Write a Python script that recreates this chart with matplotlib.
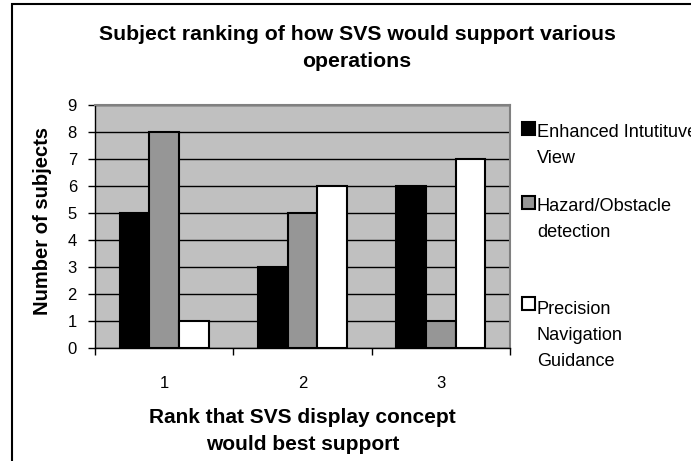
import matplotlib
matplotlib.use("Agg")
import matplotlib.pyplot as plt
from matplotlib.patches import Rectangle
import numpy as np

plt.rcParams['font.family'] = ['Liberation Sans', 'DejaVu Sans']

ranks = ["1", "2", "3"]
series_names = ["Enhanced Intutituve\nView", "Hazard/Obstacle\ndetection",
                "Precision\nNavigation\nGuidance"]
enhanced_view = [5, 3, 6]
hazard_detection = [8, 5, 1]
precision_guidance = [1, 6, 7]
series_values = [enhanced_view, hazard_detection, precision_guidance]
series_colors = ["#000000", "#969696", "#FFFFFF"]

W, H = 691, 461
fig = plt.figure(figsize=(W / 100, H / 100), dpi=100)
fig.patch.set_facecolor("white")


def fx(px):
    return px / W


def fy(py):
    return 1 - py / H


# chart frame
fig.patches.append(Rectangle((fx(12), -0.1), 1.2, 1.1 - 4 / H,
                             transform=fig.transFigure, fill=False,
                             edgecolor="black", linewidth=1.5, zorder=0))

ax = fig.add_axes([fx(95), fy(348), 415 / W, 243 / H])
ax.set_facecolor("#C0C0C0")

x = np.arange(len(ranks))
width = 0.215
for i, (vals, col) in enumerate(zip(series_values, series_colors)):
    ax.bar(x + (i - 1) * width, vals, width=width, color=col,
           edgecolor="black", linewidth=1.5, zorder=3)

ax.set_xlim(-0.5, len(ranks) - 0.5)
ax.set_ylim(0, 9)
ax.set_yticks(range(0, 10))
ax.yaxis.grid(True, color="black", linewidth=1.0, zorder=1)
ax.set_axisbelow(True)

# category labels centred between boundary ticks
ax.set_xticks(np.arange(-0.5, len(ranks) + 0.5, 1.0))
ax.set_xticklabels([])
ax.set_xticks(x, minor=True)
ax.set_xticklabels(ranks, minor=True, fontsize=12)
ax.tick_params(axis="x", which="minor", length=0, pad=20)
ax.tick_params(axis="x", which="major", length=5, width=1, color="black")
ax.tick_params(axis="y", length=5, width=1, labelsize=12, pad=8)

for side in ["top", "right"]:
    ax.spines[side].set_color("#808080")
    ax.spines[side].set_linewidth(1.5)
for side in ["left", "bottom"]:
    ax.spines[side].set_color("black")
    ax.spines[side].set_linewidth(1.0)

ax.set_ylabel("Number of subjects", fontsize=14.5, fontweight="bold")
ax.yaxis.set_label_coords((52 - 95) / 415, (348 - 221) / 243)

ax.set_xlabel("Rank that SVS display concept\nwould best support",
              fontsize=15, fontweight="bold", linespacing=1.55)
ax.xaxis.set_label_coords(0.5, -(450 - 348) / 243)
ax.xaxis.label.set_verticalalignment("baseline")

fig.text(fx(357), fy(67),
         "Subject ranking of how SVS would support various\noperations",
         ha="center", va="baseline", fontsize=15.3, fontweight="bold",
         linespacing=1.55)

# legend
line_px = 28
first_baselines = [135, 209, 310]
for name, col, base in zip(series_names, series_colors, first_baselines):
    n = name.count("\n")
    fig.patches.append(Rectangle((fx(522), fy(base)), 13 / W, 13 / H,
                                 transform=fig.transFigure, facecolor=col,
                                 edgecolor="black", linewidth=1.5))
    fig.text(fx(537), fy(base + n * line_px), name, ha="left", va="baseline",
             fontsize=13.1, linespacing=1.68)

fig.savefig("out.png", dpi=100)
